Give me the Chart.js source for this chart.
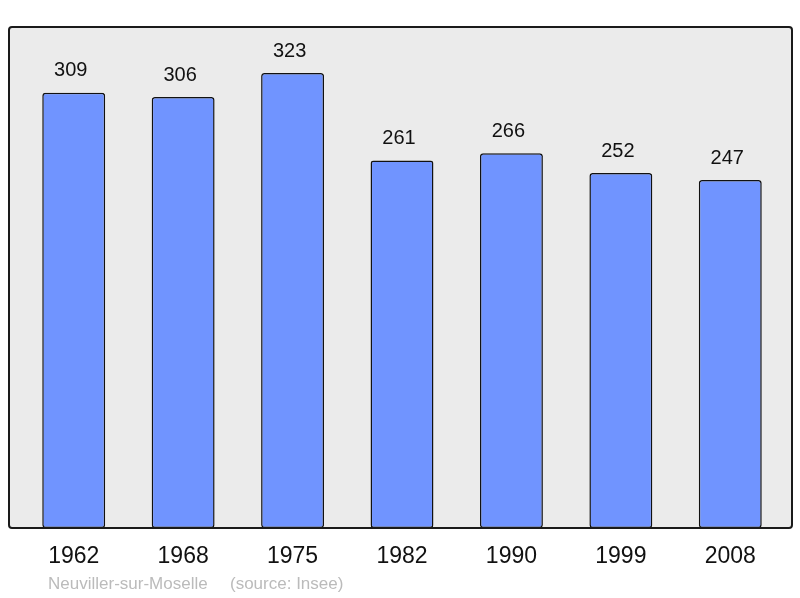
<!DOCTYPE html>
<html>
<head>
<meta charset="utf-8">
<script src="https://cdn.jsdelivr.net/npm/chart.js@4.4.0/dist/chart.umd.min.js"></script>
<style>
  html, body { margin: 0; padding: 0; background: #fff; }
  #wrap { width: 800px; height: 598px; position: relative; }
</style>
</head>
<body>
<div id="wrap"><canvas id="pop" width="800" height="598"></canvas></div>
<script>
const years = ["1962", "1968", "1975", "1982", "1990", "1999", "2008"];
const population = [309, 306, 323, 261, 266, 252, 247];
const placeName = "Neuviller-sur-Moselle";
const sourceText = "(source: Insee)";

// frame + labels drawn around the bars
const framePlugin = {
  id: 'frame',
  beforeDraw(chart) {
    const ctx = chart.ctx;
    ctx.save();
    ctx.fillStyle = '#ebebeb';
    ctx.beginPath();
    ctx.roundRect(9, 27, 783, 501, 3);
    ctx.fill();
    ctx.restore();
  },
  afterDatasetsDraw(chart) {
    const ctx = chart.ctx;
    const meta = chart.getDatasetMeta(0);
    ctx.save();
    ctx.strokeStyle = '#1a1a1a';
    ctx.lineWidth = 2;
    ctx.beginPath();
    ctx.roundRect(9, 27, 783, 501, 3);
    ctx.stroke();

    ctx.fillStyle = '#111';
    ctx.textAlign = 'center';
    ctx.textBaseline = 'middle';
    ctx.font = '20px "Liberation Sans", Arial, sans-serif';
    meta.data.forEach((bar, i) => {
      ctx.fillText(String(population[i]), bar.x - 3, bar.y - 22);
    });

    ctx.font = '23px "Liberation Sans", Arial, sans-serif';
    const xs = chart.scales.x;
    years.forEach((y, i) => {
      ctx.fillText(y, xs.getPixelForValue(i), 557);
    });

    ctx.fillStyle = '#bbbbbb';
    ctx.textAlign = 'left';
    ctx.font = '17px "Liberation Sans", Arial, sans-serif';
    ctx.fillText(placeName, 48, 584);
    ctx.fillText(sourceText, 230, 584);
    ctx.restore();
  }
};

new Chart(document.getElementById('pop'), {
  type: 'bar',
  data: {
    labels: years,
    datasets: [{
      data: population,
      backgroundColor: '#7094ff',
      borderColor: '#111',
      borderWidth: 1.5,
      borderRadius: 3,
      borderSkipped: false,
      categoryPercentage: 1,
      barPercentage: 0.575
    }]
  },
  options: {
    responsive: false,
    animation: false,
    devicePixelRatio: 1,
    layout: { padding: { left: 19, right: 15, top: 27, bottom: 70 } },
    plugins: { legend: { display: false }, tooltip: { enabled: false } },
    scales: {
      x: { display: false },
      y: { display: false, min: 0, max: 355.7 }
    }
  },
  plugins: [framePlugin]
});
</script>
</body>
</html>
